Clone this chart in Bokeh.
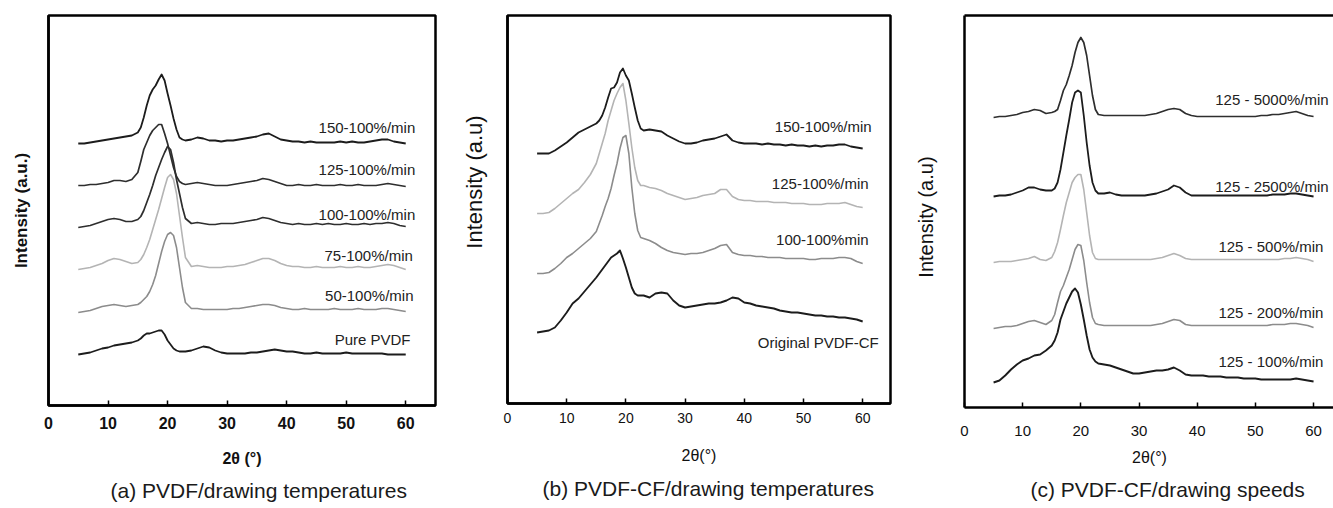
import math
from bokeh.plotting import figure
from bokeh.layouts import row
from bokeh.models import Label, Range1d, FixedTicker, LinearAxis, Title
from bokeh.embed import file_html
from bokeh.resources import INLINE

# ---------------- data (2-theta in degrees, intensity as stacked a.u.) ----------------
two_theta = [5, 6, 7, 8, 9, 10, 11, 12, 13, 14,
             15, 15.5, 16, 16.5, 17, 17.5, 18, 18.5, 19, 19.5,
             20, 20.5, 21, 21.5, 22, 22.5, 23,
             24, 25, 26, 27, 28, 29, 30, 31, 32, 33, 34, 35, 36, 37, 38, 39, 40, 41, 42,
             43, 44, 45, 46, 47, 48, 49, 50, 51, 52, 53, 54, 55, 56, 57, 58, 59, 60]

# (a) PVDF / drawing temperatures
a_names = ["150-100%/min", "125-100%/min", "100-100%/min", "75-100%/min", "50-100%/min", "Pure PVDF"]
a_150 = [262, 262, 263, 264, 265, 266, 267, 268, 269, 270,
         273, 278, 288, 300, 310, 316, 320, 326, 331, 325,
         312, 300, 287, 276, 268, 266, 265,
         266, 268, 267, 265, 265, 264, 265, 265, 266, 267, 268, 269, 271, 272, 269, 266, 265, 264, 264,
         263, 264, 263, 263, 263, 263, 264, 263, 264, 263, 263, 264, 265, 266, 266, 264, 263, 262]
a_125 = [220, 220, 221, 221, 222, 223, 225, 225, 224, 226,
         233, 244, 256, 263, 270, 275, 278, 281, 281, 272,
         262, 250, 238, 229, 224, 222, 221,
         222, 223, 222, 221, 220, 220, 220, 221, 222, 223, 224, 225, 227, 226, 224, 222, 220, 220, 221,
         220, 220, 221, 220, 220, 220, 221, 220, 220, 221, 220, 220, 220, 221, 222, 221, 220, 219]
a_100 = [178, 179, 180, 182, 184, 186, 187, 186, 184, 184,
         186, 189, 195, 203, 211, 220, 230, 238, 246, 253,
         259, 256, 243, 226, 212, 198, 187,
         182, 183, 182, 181, 181, 182, 182, 182, 183, 184, 185, 186, 188, 187, 185, 183, 182, 181, 182,
         181, 181, 182, 181, 182, 181, 181, 182, 181, 181, 182, 181, 182, 182, 183, 182, 180, 179]
a_75 = [136, 137, 138, 140, 142, 145, 147, 146, 144, 142,
        143, 146, 151, 158, 166, 176, 186, 196, 207, 218,
        228, 231, 226, 212, 190, 168, 148,
        139, 140, 139, 138, 138, 138, 139, 139, 140, 141, 143, 145, 147, 147, 145, 142, 140, 139, 139,
        138, 138, 139, 138, 138, 138, 139, 138, 138, 139, 138, 138, 139, 140, 141, 140, 138, 136]
a_50 = [93, 94, 95, 97, 99, 100, 101, 100, 99, 100,
        101, 103, 106, 109, 114, 121, 130, 142, 154, 164,
        171, 173, 170, 158, 138, 118, 103,
        97, 97, 96, 96, 96, 96, 96, 97, 97, 98, 99, 100, 101, 101, 100, 98, 97, 96, 96,
        97, 96, 96, 96, 96, 97, 96, 96, 96, 97, 96, 96, 96, 97, 97, 96, 95, 94]
a_pure = [51, 52, 53, 55, 57, 58, 60, 61, 62, 63,
          65, 67, 70, 72, 72, 73, 74, 75, 75, 71,
          65, 61, 57, 55, 54, 54, 54,
          55, 57, 59, 58, 55, 53, 52, 52, 52, 52, 53, 53, 54, 55, 56, 55, 54, 54, 53,
          52, 52, 53, 52, 52, 52, 52, 53, 52, 52, 52, 52, 52, 52, 51, 51, 51, 51]

# (b) PVDF-CF / drawing temperatures
b_names = ["150-100%/min", "125-100%/min", "100-100%min", "Original PVDF-CF"]
b_150 = [250, 250, 250, 253, 257, 261, 266, 271, 274, 277,
         280, 283, 288, 296, 306, 315, 316, 321, 331, 335,
         328, 323, 310, 296, 283, 275, 273,
         274, 273, 272, 268, 265, 262, 260, 260, 261, 263, 264, 265, 267, 269, 263, 261, 260, 260, 260,
         259, 260, 259, 259, 258, 259, 258, 258, 257, 258, 257, 258, 258, 259, 259, 257, 256, 255]
b_125 = [190, 190, 191, 195, 200, 205, 210, 214, 221, 229,
         240, 250, 260, 270, 283, 293, 303, 310, 316, 320,
         303, 280, 256, 236, 223, 218, 218,
         216, 215, 213, 210, 208, 206, 204, 205, 206, 208, 209, 210, 214, 214, 207, 204, 203, 203, 202,
         202, 202, 201, 201, 201, 200, 200, 200, 199, 199, 199, 200, 200, 200, 201, 199, 197, 196]
b_100 = [130, 130, 131, 135, 140, 146, 150, 155, 160, 165,
         172, 180, 188, 197, 205, 215, 228, 240, 255, 266,
         268, 250, 216, 190, 173, 166, 165,
         163, 160, 156, 153, 151, 150, 149, 150, 150, 151, 153, 155, 158, 159, 151, 149, 148, 148, 147,
         147, 146, 146, 146, 145, 145, 145, 145, 144, 144, 145, 145, 145, 146, 146, 145, 142, 140]
b_orig = [71, 72, 73, 76, 83, 91, 100, 105, 112, 119,
          126, 130, 134, 138, 142, 146, 148, 150, 153, 145,
          136, 126, 116, 110, 108, 108, 108,
          106, 110, 111, 110, 103, 98, 96, 97, 98, 99, 100, 100, 101, 103, 106, 105, 101, 100, 98,
          97, 96, 95, 93, 92, 91, 91, 90, 89, 88, 88, 87, 87, 86, 86, 85, 84, 82]

# (c) PVDF-CF / drawing speeds
c_names = ["125 - 5000%/min", "125 - 2500%/min", "125 - 500%/min", "125 - 200%/min", "125 - 100%/min"]
c_5000 = [290, 291, 291, 292, 293, 295, 296, 298, 297, 294,
          295, 296, 298, 307, 317, 323, 332, 342, 355, 365,
          370, 365, 352, 332, 312, 298, 293,
          292, 292, 292, 292, 292, 292, 292, 292, 293, 294, 296, 298, 299, 298, 294, 292, 291, 291, 291,
          291, 291, 291, 291, 291, 291, 291, 291, 292, 292, 293, 293, 294, 295, 296, 294, 292, 291]
c_2500 = [211, 212, 212, 213, 215, 217, 220, 220, 218, 217,
          217, 219, 225, 238, 255, 272, 288, 305, 315, 317,
          315, 292, 265, 242, 225, 217, 214,
          214, 215, 213, 212, 212, 212, 212, 212, 213, 214, 216, 218, 222, 220, 215, 212, 212, 212, 212,
          212, 212, 212, 212, 212, 212, 212, 212, 212, 212, 213, 213, 213, 214, 214, 213, 212, 211]
c_500 = [145, 146, 146, 146, 147, 148, 149, 151, 148, 147,
         150, 156, 165, 178, 192, 205, 215, 225, 230, 233,
         233, 218, 195, 172, 155, 149, 148,
         148, 148, 148, 148, 148, 148, 148, 148, 148, 149, 150, 152, 154, 152, 149, 148, 148, 148, 148,
         148, 148, 148, 148, 148, 148, 148, 148, 148, 148, 148, 148, 149, 149, 150, 149, 148, 146]
c_200 = [79, 80, 81, 81, 82, 84, 86, 87, 85, 83,
         87, 93, 105, 116, 122, 130, 138, 148, 158, 163,
         162, 147, 125, 105, 90, 84, 83,
         82, 82, 82, 82, 82, 82, 82, 82, 82, 83, 84, 86, 88, 87, 83, 82, 82, 82, 82,
         82, 82, 82, 82, 82, 82, 82, 82, 82, 82, 83, 83, 83, 84, 84, 83, 82, 80]
c_100 = [25, 27, 32, 38, 43, 47, 49, 52, 53, 57,
         62, 67, 75, 88, 96, 104, 110, 116, 119, 115,
         103, 88, 72, 58, 50, 46, 44,
         43, 42, 40, 38, 36, 34, 34, 35, 36, 37, 37, 38, 40, 37, 33, 32, 32, 32, 31,
         31, 31, 30, 30, 30, 29, 29, 29, 28, 28, 28, 28, 28, 28, 29, 28, 27, 26]

x_ticks = [0, 10, 20, 30, 40, 50, 60]

# ---------------- styling / layout ----------------
FONT = "Liberation Sans"
DARK = "#1c1c1c"
DARK2 = "#2e2e2e"
MID = "#8c8c8c"
LIGHT = "#b4b4b4"
NBSP = "\u00a0"


def panel(frame_w, frame_h, left, right, top, xmax, bold, tick_size, tick_standoff, full_box,
          xlabel, xlabel_size, xlabel_standoff, ylabel, ylabel_size, ylabel_standoff,
          caption, caption_offset, caption_standoff):
    p = figure(frame_width=frame_w, frame_height=frame_h,
               x_range=Range1d(0, xmax), y_range=Range1d(0, frame_h),
               output_backend="svg", toolbar_location=None,
               min_border_left=left, min_border_right=right,
               min_border_top=top, min_border_bottom=508 - top - frame_h)
    p.grid.visible = False
    p.background_fill_color = "white"
    p.border_fill_color = "white"
    style = "bold" if bold else "normal"
    xa = p.xaxis[0]
    xa.ticker = FixedTicker(ticks=x_ticks)
    xa.major_tick_in = 5
    xa.major_tick_out = 0
    xa.minor_tick_in = 0
    xa.minor_tick_out = 0
    xa.major_tick_line_width = 1.5
    xa.minor_tick_line_color = None
    xa.axis_line_width = 2.5
    xa.axis_line_color = "black"
    xa.major_label_text_font = FONT
    xa.major_label_text_font_size = tick_size
    xa.major_label_text_font_style = style
    xa.major_label_text_color = "#111111"
    xa.major_label_standoff = tick_standoff
    xa.axis_label = xlabel
    xa.axis_label_text_font = FONT
    xa.axis_label_text_font_size = xlabel_size
    xa.axis_label_text_font_style = style
    xa.axis_label_text_color = "#111111"
    xa.axis_label_standoff = xlabel_standoff
    ya = p.yaxis[0]
    ya.ticker = FixedTicker(ticks=[])
    ya.major_tick_line_color = None
    ya.minor_tick_line_color = None
    ya.major_label_text_font_size = "0px"
    ya.major_label_standoff = 0
    ya.axis_line_width = 2.5
    ya.axis_line_color = "black"
    ya.axis_label = ylabel
    ya.axis_label_text_font = FONT
    ya.axis_label_text_font_size = ylabel_size
    ya.axis_label_text_font_style = style
    ya.axis_label_text_color = "#111111"
    ya.axis_label_standoff = ylabel_standoff
    if full_box:
        p.outline_line_color = "black"
        p.outline_line_width = 2.5
        p.outline_line_alpha = 1.0
    else:
        p.outline_line_color = None
        top_axis = LinearAxis(ticker=FixedTicker(ticks=[]), major_tick_line_color=None,
                              minor_tick_line_color=None, major_label_text_font_size="0px",
                              major_tick_in=0, major_tick_out=0, minor_tick_in=0, minor_tick_out=0,
                              major_label_standoff=0, axis_line_width=2.5, axis_line_color="black")
        p.add_layout(top_axis, "above")
    cap = Title(text=caption, align="left", offset=caption_offset, standoff=caption_standoff,
                text_font=FONT, text_font_size="21px", text_font_style="normal",
                text_color="#1a1a1a")
    p.add_layout(cap, "below")
    return p


def add_text(p, x, y, text, size, align="right", color="#222222"):
    p.add_layout(Label(x=x, y=y, text=text, text_font=FONT, text_font_size=size,
                       text_align=align, text_baseline="middle", text_color=color))


# ---- panel (a) ----  figure spans x 0..458, frame 48..435
pa = panel(387, 390, 48, 23, 13, 65, True, "16px", 11, True,
           "2θ (°)", "16px", 18, "Intensity (a.u.)", "17px", 18,
           "(a) PVDF/drawing temperatures", 62, 15)
for ys, col, lw in zip([a_150, a_125, a_100, a_75, a_50, a_pure],
                       [DARK, DARK2, DARK2, LIGHT, MID, DARK],
                       [1.8, 1.7, 1.7, 1.6, 1.6, 1.8]):
    pa.line(two_theta, ys, line_color=col, line_width=lw, line_join="round")
a_lab_pos = [(61.6, 278), (61.6, 236), (61.6, 191), (61.2, 150), (61.3, 110), (60.8, 66)]
for name, (lx, ly) in zip(a_names, a_lab_pos):
    add_text(pa, lx, ly, name, "15px")

# ---- panel (b) ----  figure spans x 458..908, frame 506..889
pb = panel(383, 388, 48, 19, 15, 64.7, False, "14px", 9, True,
           "2θ(°)", "16px", 21, NBSP * 9 + "Intensity (a.u)", "22px", 21,
           "(b) PVDF-CF/drawing temperatures", 35, 16)
for ys, col, lw in zip([b_150, b_125, b_100, b_orig],
                       [DARK, LIGHT, MID, DARK],
                       [1.8, 1.6, 1.6, 1.9]):
    pb.line(two_theta, ys, line_color=col, line_width=lw, line_join="round")
b_lab_pos = [(61.5, 277), (61.0, 220), (61.0, 164), (62.7, 61)]
for name, (lx, ly) in zip(b_names, b_lab_pos):
    add_text(pb, lx, ly, name, "15px")

# ---- panel (c) ----  figure spans x 908..1333, frame 963..1333
pc = panel(370, 392, 55, 0, 13, 63.6, False, "15px", 18, False,
           "2θ(°)", "16px", 10, "Intensity (a.u)" + NBSP * 2, "20px", 28,
           "(c) PVDF-CF/drawing speeds", 66, 14)
for ys, col, lw in zip([c_5000, c_2500, c_500, c_200, c_100],
                       [DARK2, DARK, LIGHT, MID, DARK],
                       [1.7, 1.8, 1.6, 1.6, 1.9]):
    pc.line(two_theta, ys, line_color=col, line_width=lw, line_join="round")
c_lab_pos = [(62.6, 308), (62.6, 221), (61.7, 161), (61.7, 95), (61.7, 46)]
for name, (lx, ly) in zip(c_names, c_lab_pos):
    add_text(pc, lx, ly, name, "15px")

layout = row(pa, pb, pc)
open("out.html", "w").write(file_html(layout, INLINE))
